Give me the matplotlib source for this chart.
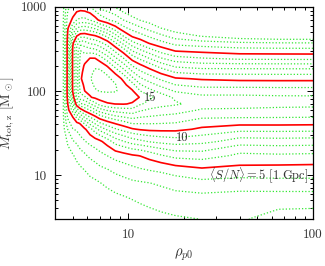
import numpy as np
import matplotlib
matplotlib.use("Agg")
import matplotlib.pyplot as plt
from matplotlib.ticker import FuncFormatter, NullFormatter, LogLocator

plt.rcParams['mathtext.fontset'] = 'cm'
plt.rcParams['font.family'] = 'serif'
plt.rcParams['font.serif'] = ['cmr10', 'DejaVu Serif']
plt.rcParams['axes.formatter.use_mathtext'] = True

# S/N on a (rho_p0, M_tot,z) grid
rho_p0 = [4.0, 4.3, 4.5, 4.7, 5.0, 5.25, 5.5, 5.8, 6.2, 6.6, 7.0, 7.7, 8.5,
          9.4, 10.5, 11.6, 13.0, 15.0, 18.0, 25.0, 40.0, 65.0, 100.0]
m_tot = [1000, 700, 560, 450, 370, 300, 245, 200, 167, 140, 118, 100, 84,
         70, 59, 50, 41, 35, 25, 17, 12, 8, 5.5, 4, 3]

# one list per rho_p0 column, from M=1000 down to M=3
snr_cols = [
    [0] * 25,
    [0.3] * 18 + [0.2, 0.1, 0, 0, 0, 0, 0],
    [2.4] + [2.7] * 14 + [2.6, 2.3, 2.0, 1.5, 1.0, 0.5, 0.2, 0, 0, 0],
    [3.8, 4.5, 4.9, 5.36, 5.61, 5.62, 5.63, 5.64, 5.65, 5.66, 5.67, 5.68, 5.56,
     5.05, 4.63, 4.23, 3.62, 3.04, 2.16, 1.68, 1.35, 0.96, 0.59, 0.28, 0],
    [4.2, 5.18, 6.8, 8.4, 9.82, 10.25, 10.3, 10.3, 10.3, 10.3, 10.3, 10.18, 9.36,
     7.86, 6.45, 5.09, 4.43, 3.95, 2.9, 1.91, 1.53, 1.08, 0.67, 0.32, 0],
    [4.3, 5.98, 8.0, 10.0, 11.62, 12.33, 12.4, 12.4, 12.4, 12.4, 12.4, 12.4, 12.1,
     10.64, 8.47, 6.47, 4.75, 4.15, 3.18, 2.26, 1.73, 1.25, 0.81, 0.44, 0.1],
    [4.4, 6.26, 8.33, 10.6, 12.65, 14.02, 14.26, 14.5, 14.7, 14.88, 14.56, 14.24, 13.64,
     11.84, 9.47, 7.47, 5.07, 4.57, 3.62, 2.61, 1.9, 1.4, 0.94, 0.56, 0.2],
    [4.3, 6.25, 8.4, 10.67, 12.42, 13.67, 14.59, 15.13, 15.36, 15.42, 15.21, 15.0, 13.82,
     12.17, 10.3, 8.41, 6.16, 4.84, 3.93, 2.84, 2.09, 1.54, 1.07, 0.67, 0.3],
    [4.0, 5.94, 8.19, 10.33, 11.87, 13.52, 15.02, 15.38, 15.7, 15.89, 15.58, 15.29, 14.91,
     12.91, 11.03, 9.28, 7.28, 5.67, 4.3, 3.22, 2.42, 1.72, 1.21, 0.79, 0.4],
    [3.3, 5.41, 7.79, 10.11, 11.69, 13.38, 15.0, 15.78, 16.23, 16.53, 16.23, 15.85, 15.22,
     13.67, 11.79, 9.97, 8.08, 6.55, 4.53, 3.48, 2.61, 1.83, 1.34, 0.93, 0.55],
    [2.6, 4.76, 7.19, 9.69, 11.3, 12.91, 14.47, 15.65, 16.25, 16.66, 16.39, 16.06, 15.47,
     14.42, 12.55, 10.73, 8.8, 7.35, 4.78, 3.73, 2.85, 1.96, 1.5, 1.11, 0.75],
    [2.3, 4.11, 6.43, 8.71, 10.51, 12.0, 13.43, 14.88, 15.74, 16.26, 16.46, 16.12, 15.59,
     14.89, 13.11, 11.4, 9.49, 8.2, 5.49, 4.02, 3.05, 2.22, 1.68, 1.3, 0.95],
    [1.9, 3.6, 5.38, 7.38, 9.15, 10.79, 12.17, 13.57, 14.79, 15.59, 16.08, 16.08, 15.58,
     15.01, 13.44, 11.9, 10.05, 8.88, 6.44, 4.41, 3.37, 2.47, 1.84, 1.45, 1.1],
    [1.2, 2.99, 4.27, 5.98, 7.71, 9.56, 11.02, 12.39, 13.59, 14.78, 15.29, 15.64, 15.61,
     15.05, 13.58, 12.19, 10.51, 9.38, 6.94, 4.63, 3.6, 2.65, 1.96, 1.59, 1.25],
    [0.6, 2.41, 3.62, 4.85, 6.33, 7.98, 9.57, 10.96, 12.13, 13.27, 14.38, 15.11, 15.31,
     14.92, 13.68, 12.48, 11.04, 9.88, 7.49, 4.89, 3.83, 2.83, 2.1, 1.74, 1.45],
    [0.4, 1.93, 3.15, 4.37, 5.65, 7.23, 8.75, 10.21, 11.19, 12.16, 13.09, 14.0, 14.95,
     14.11, 13.13, 12.18, 11.03, 10.11, 7.76, 5.04, 4.01, 2.9, 2.25, 1.85, 1.6],
    [0.2, 1.57, 2.61, 3.84, 4.94, 6.47, 7.96, 9.47, 10.57, 11.51, 12.42, 13.3, 14.22,
     13.67, 12.83, 12.02, 11.04, 10.26, 8.06, 5.42, 4.2, 2.98, 2.42, 1.97, 1.75],
    [0, 0.7, 2.0, 3.23, 4.32, 5.63, 7.06, 8.51, 9.78, 10.8, 11.73, 12.63, 13.57,
     13.36, 12.61, 11.88, 11.0, 10.29, 8.31, 5.9, 4.38, 3.16, 2.55, 2.11, 1.8],
    [0, 0.2, 1.36, 2.54, 3.68, 4.95, 6.32, 7.72, 8.94, 10.12, 11.01, 11.88, 12.79,
     13.13, 12.43, 11.75, 10.93, 10.27, 8.51, 6.37, 4.68, 3.45, 2.7, 2.25, 1.9],
    [0, 0, 0.98, 1.94, 3.42, 4.72, 6.04, 7.43, 8.66, 9.87, 10.7, 11.46, 12.27,
     12.54, 11.87, 11.23, 10.45, 9.8, 8.28, 6.53, 4.97, 3.74, 2.78, 2.25, 2.02],
    [0, 0, 0, 1.3, 3.2, 4.45, 5.75, 7.4, 8.65, 9.7, 10.65, 11.5, 12.25,
     12.4, 11.85, 11.2, 10.25, 9.35, 7.5, 5.75, 4.8, 3.62, 2.65, 2.2, 2.05],
    [0, 0, 0, 1.0, 3.1, 4.42, 5.72, 7.38, 8.63, 9.68, 10.62, 11.45, 12.17,
     12.32, 11.76, 11.17, 10.25, 9.36, 7.58, 5.85, 4.75, 3.70, 2.63, 2.02, 1.8],
    [0, 0, 0, 1.0, 3.08, 4.41, 5.70, 7.37, 8.63, 9.68, 10.63, 11.44, 12.15,
     12.29, 11.72, 11.14, 10.21, 9.33, 7.53, 5.79, 4.72, 3.71, 2.63, 2.0, 1.6],
]

green_levels = [2, 3, 4, 6, 7, 8, 9, 11, 12, 13, 14, 16]
red_levels = [5, 10, 15]

R, M = np.meshgrid(rho_p0, m_tot)
Z = np.array(snr_cols).T

fig = plt.figure(figsize=(3.25, 2.66), dpi=100)
ax = fig.add_axes([0.169, 0.177, 0.794, 0.797])

ax.contour(R, M, Z, levels=green_levels, colors='#33e833',
           linewidths=0.9, linestyles=[(0, (1, 1.6))])
ax.contour(R, M, Z, levels=red_levels, colors='#ff0000', linewidths=1.2)

txt = '#333333'
ax.text(13.1, 83.6, '15', fontsize=9, color=txt, ha='center', va='center')
ax.text(19.6, 27.7, '10', fontsize=9, color=txt, ha='center', va='center')
ax.text(50.7, 9.7, r'$\langle S/N\rangle = 5\ [1\ {\rm Gpc}]$', fontsize=9,
        color=txt, ha='center', va='center')

ax.set_xscale('log')
ax.set_yscale('log')
ax.set_xlim(4, 100)
ax.set_ylim(3, 1000)

fmt = FuncFormatter(lambda v, _: f"{v:g}")
ax.xaxis.set_major_formatter(fmt)
ax.yaxis.set_major_formatter(fmt)
ax.xaxis.set_minor_formatter(NullFormatter())
ax.yaxis.set_minor_formatter(NullFormatter())
ax.xaxis.set_minor_locator(LogLocator(base=10, subs=np.arange(2, 10)))
ax.yaxis.set_minor_locator(LogLocator(base=10, subs=np.arange(2, 10)))

ax.tick_params(which='both', direction='in', top=True, right=True,
               labelsize=9.5, labelcolor=txt, width=0.7)
ax.tick_params(which='major', length=4)
ax.tick_params(which='minor', length=2)
ax.tick_params(axis='x', which='major', pad=7)
ax.tick_params(axis='y', which='major', pad=6)
for s in ax.spines.values():
    s.set_linewidth(0.9)

ax.set_xlabel(r'$\rho_{p0}$', fontsize=10.5, color=txt, labelpad=4)
ax.set_ylabel(r'$M_{\rm tot,z}$ [M$_\odot$]', fontsize=10, color=txt, labelpad=3)

fig.savefig('out.png', dpi=100)
